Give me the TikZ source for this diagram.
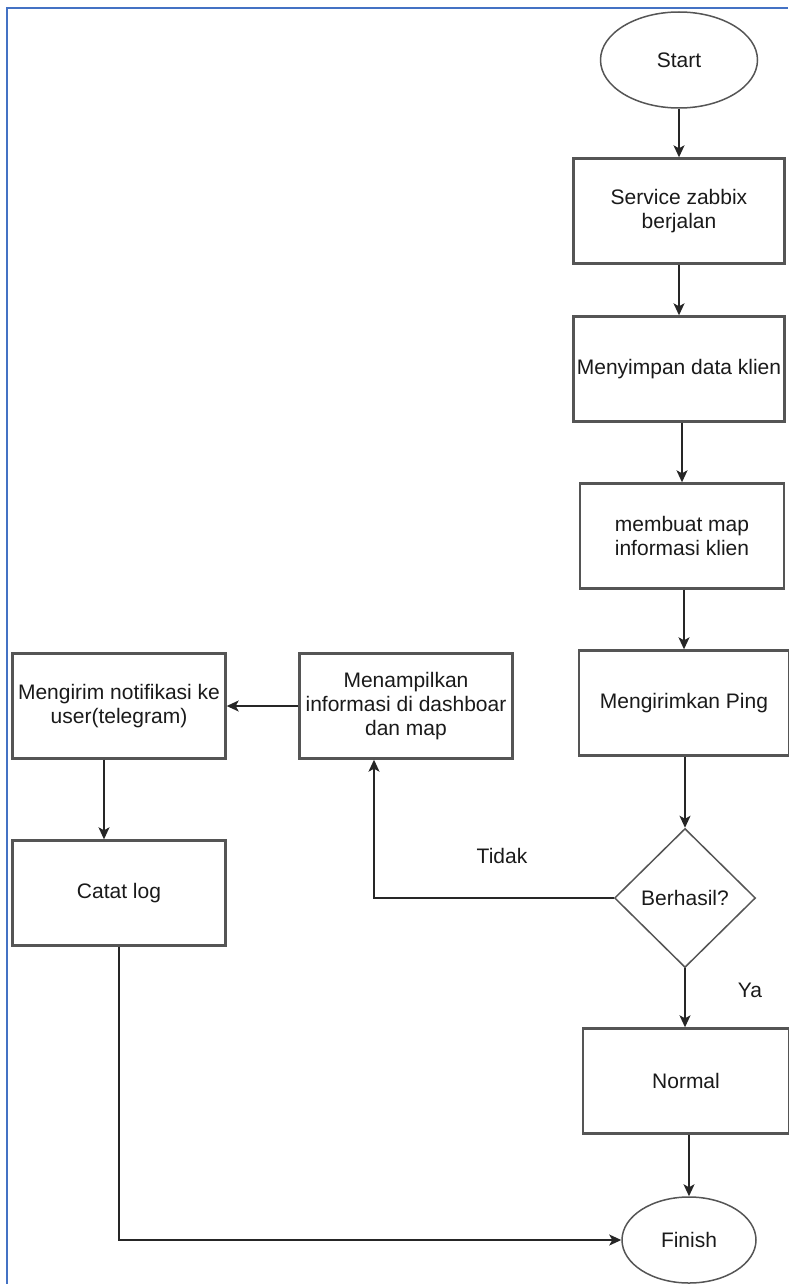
\documentclass[tikz,border=0pt]{standalone}
\usepackage{fontspec}
\setmainfont{Liberation Sans}
\usetikzlibrary{arrows.meta,positioning,shapes.geometric}
\definecolor{fcline}{HTML}{555555}
\definecolor{fcarrow}{HTML}{262626}
\definecolor{fcframe}{HTML}{4472C4}
\definecolor{fctext}{HTML}{1A1A1A}

\begin{document}
\begin{tikzpicture}[x=1pt,y=-1pt,
    font=\fontsize{21}{24}\selectfont, text=fctext,
    procbox/.style={draw=fcline,line width=2.4pt,fill=white,rectangle,
      minimum width=#1,minimum height=105pt,inner sep=0pt,align=center},
    procbox/.default=211pt,
    termnode/.style={draw=fcline,line width=1.5pt,ellipse,inner sep=0pt},
    flowarr/.style={draw=fcarrow,line width=1.5pt,
      -{Stealth[length=12pt,width=11pt,inset=3pt]}}]
    \useasboundingbox (0,0) rectangle (788,1284);
    % frame of the page
    \draw[fcframe,line width=1.5pt] (7,1284) -- (7,8) -- (788,8);

    % main column
    \node[termnode,minimum width=157pt,minimum height=96pt] (start) at (679,60) {Start};
    \node[procbox] (svc) at (679,211) {Service zabbix\\berjalan};
    \node[procbox] (simpan) at (679,369) {Menyimpan data klien};
    \node[procbox=204pt] (peta) at (682,536) {membuat map\\informasi klien};
    \node[procbox=210pt] (ping) at (684,703) {Mengirimkan Ping};
    \node[diamond,draw=fcline,line width=1.5pt,minimum width=141pt,minimum height=139pt,
      inner sep=0pt] (cek) at (685,898) {Berhasil?};
    \node[procbox=206pt] (normal) at (686,1081) {Normal};
    \node[termnode,minimum width=134pt,minimum height=86pt] (finish) at (689,1240) {Finish};

    % left part
    \node[procbox=213pt] (tampil) at (406,706) {Menampilkan\\informasi di dashboar\\dan map};
    \node[procbox=213pt] (kirim) at (119,706) {Mengirim notifikasi ke\\user(telegram)};
    \node[procbox=213pt] (catat) at (119,893) {Catat log};

    \node (tidak) at (502,856) {Tidak};
    \node (ya) at (750,990) {Ya};

    \draw[flowarr] (start) -- (svc);
    \draw[flowarr] (svc) -- (simpan);
    \draw[flowarr] (peta.north |- simpan.south) -- (peta.north);
    \draw[flowarr] (ping.north |- peta.south) -- (ping.north);
    \draw[flowarr] (cek.north |- ping.south) -- (cek.north);
    \draw[flowarr] (cek.south) -- (cek.south |- normal.north);
    \draw[flowarr] (finish.north |- normal.south) -- (finish.north);
    \draw[flowarr] (cek.west) -| ([xshift=-32pt]tampil.south);
    \draw[flowarr] (tampil.west) -- (kirim.east);
    \draw[flowarr] ([xshift=-15pt]kirim.south) -- ([xshift=-15pt]catat.north);
    \draw[flowarr] (catat.south) |- (finish.west);
\end{tikzpicture}
\end{document}
